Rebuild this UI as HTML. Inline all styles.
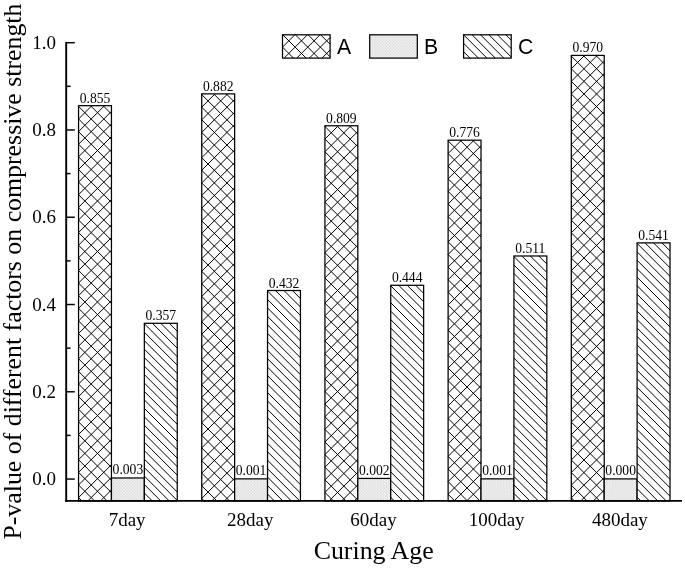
<!DOCTYPE html>
<html lang="en"><head><meta charset="utf-8"><title>P-value of different factors on compressive strength</title>
<style>
html,body{margin:0;padding:0;background:#fff;}
body{width:685px;height:568px;overflow:hidden;}
svg{display:block;will-change:transform;filter:grayscale(1);}
text{fill:#000;}
.serif{font-family:"Liberation Serif","Times New Roman",serif;}
.sans{font-family:"Liberation Sans",Arial,sans-serif;}
</style></head><body>
<svg width="685" height="568" viewBox="0 0 685 568">
<defs>
<pattern id="pb" patternUnits="userSpaceOnUse" width="2.9" height="3.06">
<rect width="3" height="3.1" fill="#f3f3f3"/><rect x="0.3" y="0.3" width="1" height="1" fill="#c2c2c2"/><rect x="1.75" y="1.83" width="1" height="1" fill="#c2c2c2"/>
</pattern>
</defs>
<rect width="685" height="568" fill="#fff"/>
<g transform="translate(78.55,105.67)"><rect width="32.90" height="395.23" fill="#fff"/><path d="M0.00,391.92L3.31,395.23M0.00,379.30L15.94,395.23M0.00,366.68L28.56,395.23M0.00,354.06L32.90,386.96M0.00,341.44L32.90,374.34M0.00,328.82L32.90,361.72M0.00,316.20L32.90,349.10M0.00,303.58L32.90,336.48M0.00,290.96L32.90,323.86M0.00,278.34L32.90,311.24M0.00,265.72L32.90,298.62M0.00,253.10L32.90,286.00M0.00,240.48L32.90,273.38M0.00,227.86L32.90,260.76M0.00,215.24L32.90,248.14M0.00,202.62L32.90,235.52M0.00,190.00L32.90,222.90M0.00,177.38L32.90,210.28M0.00,164.76L32.90,197.66M0.00,152.14L32.90,185.04M0.00,139.52L32.90,172.42M0.00,126.90L32.90,159.80M0.00,114.28L32.90,147.18M0.00,101.66L32.90,134.56M0.00,89.04L32.90,121.94M0.00,76.42L32.90,109.32M0.00,63.80L32.90,96.70M0.00,51.18L32.90,84.08M0.00,38.56L32.90,71.46M0.00,25.94L32.90,58.84M0.00,13.32L32.90,46.22M0.00,0.70L32.90,33.60M11.92,0.00L32.90,20.98M24.54,0.00L32.90,8.36M0.70,0.00L0.00,0.70M13.32,0.00L0.00,13.32M25.94,0.00L0.00,25.94M32.90,5.66L0.00,38.56M32.90,18.28L0.00,51.18M32.90,30.90L0.00,63.80M32.90,43.52L0.00,76.42M32.90,56.14L0.00,89.04M32.90,68.76L0.00,101.66M32.90,81.38L0.00,114.28M32.90,94.00L0.00,126.90M32.90,106.62L0.00,139.52M32.90,119.24L0.00,152.14M32.90,131.86L0.00,164.76M32.90,144.48L0.00,177.38M32.90,157.10L0.00,190.00M32.90,169.72L0.00,202.62M32.90,182.34L0.00,215.24M32.90,194.96L0.00,227.86M32.90,207.58L0.00,240.48M32.90,220.20L0.00,253.10M32.90,232.82L0.00,265.72M32.90,245.44L0.00,278.34M32.90,258.06L0.00,290.96M32.90,270.68L0.00,303.58M32.90,283.30L0.00,316.20M32.90,295.92L0.00,328.82M32.90,308.54L0.00,341.44M32.90,321.16L0.00,354.06M32.90,333.78L0.00,366.68M32.90,346.40L0.00,379.30M32.90,359.02L0.00,391.92M32.90,371.64L9.31,395.23M32.90,384.26L21.93,395.23" stroke="#000" stroke-width="1.0" fill="none"/><rect width="32.90" height="395.23" fill="none" stroke="#000" stroke-width="1.25"/></g>
<text class="serif" x="95.00" y="102.67" font-size="13.6" text-anchor="middle">0.855</text>
<g transform="translate(111.45,477.99)"><rect width="32.90" height="22.91" fill="url(#pb)"/><rect width="32.90" height="22.91" fill="none" stroke="#000" stroke-width="1.25"/></g>
<text class="serif" x="127.90" y="474.19" font-size="13.6" text-anchor="middle">0.003</text>
<g transform="translate(144.35,323.29)"><rect width="32.90" height="177.61" fill="#fff"/><path d="M0.00,169.70L7.91,177.61M0.00,161.24L16.37,177.61M0.00,152.78L24.83,177.61M0.00,144.32L32.90,177.22M0.00,135.86L32.90,168.76M0.00,127.40L32.90,160.30M0.00,118.94L32.90,151.84M0.00,110.48L32.90,143.38M0.00,102.02L32.90,134.92M0.00,93.56L32.90,126.46M0.00,85.10L32.90,118.00M0.00,76.64L32.90,109.54M0.00,68.18L32.90,101.08M0.00,59.72L32.90,92.62M0.00,51.26L32.90,84.16M0.00,42.80L32.90,75.70M0.00,34.34L32.90,67.24M0.00,25.88L32.90,58.78M0.00,17.42L32.90,50.32M0.00,8.96L32.90,41.86M0.00,0.50L32.90,33.40M7.96,0.00L32.90,24.94M16.42,0.00L32.90,16.48M24.88,0.00L32.90,8.02" stroke="#000" stroke-width="1.0" fill="none"/><rect width="32.90" height="177.61" fill="none" stroke="#000" stroke-width="1.25"/></g>
<text class="serif" x="160.80" y="320.29" font-size="13.6" text-anchor="middle">0.357</text>
<text class="serif" x="127.10" y="525.55" font-size="19.0" text-anchor="middle">7day</text>
<g transform="translate(201.74,93.87)"><rect width="32.90" height="407.03" fill="#fff"/><path d="M0.00,404.54L2.49,407.03M0.00,391.92L15.11,407.03M0.00,379.30L27.73,407.03M0.00,366.68L32.90,399.58M0.00,354.06L32.90,386.96M0.00,341.44L32.90,374.34M0.00,328.82L32.90,361.72M0.00,316.20L32.90,349.10M0.00,303.58L32.90,336.48M0.00,290.96L32.90,323.86M0.00,278.34L32.90,311.24M0.00,265.72L32.90,298.62M0.00,253.10L32.90,286.00M0.00,240.48L32.90,273.38M0.00,227.86L32.90,260.76M0.00,215.24L32.90,248.14M0.00,202.62L32.90,235.52M0.00,190.00L32.90,222.90M0.00,177.38L32.90,210.28M0.00,164.76L32.90,197.66M0.00,152.14L32.90,185.04M0.00,139.52L32.90,172.42M0.00,126.90L32.90,159.80M0.00,114.28L32.90,147.18M0.00,101.66L32.90,134.56M0.00,89.04L32.90,121.94M0.00,76.42L32.90,109.32M0.00,63.80L32.90,96.70M0.00,51.18L32.90,84.08M0.00,38.56L32.90,71.46M0.00,25.94L32.90,58.84M0.00,13.32L32.90,46.22M0.00,0.70L32.90,33.60M11.92,0.00L32.90,20.98M24.54,0.00L32.90,8.36M0.70,0.00L0.00,0.70M13.32,0.00L0.00,13.32M25.94,0.00L0.00,25.94M32.90,5.66L0.00,38.56M32.90,18.28L0.00,51.18M32.90,30.90L0.00,63.80M32.90,43.52L0.00,76.42M32.90,56.14L0.00,89.04M32.90,68.76L0.00,101.66M32.90,81.38L0.00,114.28M32.90,94.00L0.00,126.90M32.90,106.62L0.00,139.52M32.90,119.24L0.00,152.14M32.90,131.86L0.00,164.76M32.90,144.48L0.00,177.38M32.90,157.10L0.00,190.00M32.90,169.72L0.00,202.62M32.90,182.34L0.00,215.24M32.90,194.96L0.00,227.86M32.90,207.58L0.00,240.48M32.90,220.20L0.00,253.10M32.90,232.82L0.00,265.72M32.90,245.44L0.00,278.34M32.90,258.06L0.00,290.96M32.90,270.68L0.00,303.58M32.90,283.30L0.00,316.20M32.90,295.92L0.00,328.82M32.90,308.54L0.00,341.44M32.90,321.16L0.00,354.06M32.90,333.78L0.00,366.68M32.90,346.40L0.00,379.30M32.90,359.02L0.00,391.92M32.90,371.64L0.00,404.54M32.90,384.26L10.13,407.03M32.90,396.88L22.75,407.03" stroke="#000" stroke-width="1.0" fill="none"/><rect width="32.90" height="407.03" fill="none" stroke="#000" stroke-width="1.25"/></g>
<text class="serif" x="218.19" y="90.87" font-size="13.6" text-anchor="middle">0.882</text>
<g transform="translate(234.64,478.86)"><rect width="32.90" height="22.04" fill="url(#pb)"/><rect width="32.90" height="22.04" fill="none" stroke="#000" stroke-width="1.25"/></g>
<text class="serif" x="251.09" y="475.06" font-size="13.6" text-anchor="middle">0.001</text>
<g transform="translate(267.54,290.52)"><rect width="32.90" height="210.38" fill="#fff"/><path d="M0.00,203.54L6.84,210.38M0.00,195.08L15.30,210.38M0.00,186.62L23.76,210.38M0.00,178.16L32.22,210.38M0.00,169.70L32.90,202.60M0.00,161.24L32.90,194.14M0.00,152.78L32.90,185.68M0.00,144.32L32.90,177.22M0.00,135.86L32.90,168.76M0.00,127.40L32.90,160.30M0.00,118.94L32.90,151.84M0.00,110.48L32.90,143.38M0.00,102.02L32.90,134.92M0.00,93.56L32.90,126.46M0.00,85.10L32.90,118.00M0.00,76.64L32.90,109.54M0.00,68.18L32.90,101.08M0.00,59.72L32.90,92.62M0.00,51.26L32.90,84.16M0.00,42.80L32.90,75.70M0.00,34.34L32.90,67.24M0.00,25.88L32.90,58.78M0.00,17.42L32.90,50.32M0.00,8.96L32.90,41.86M0.00,0.50L32.90,33.40M7.96,0.00L32.90,24.94M16.42,0.00L32.90,16.48M24.88,0.00L32.90,8.02" stroke="#000" stroke-width="1.0" fill="none"/><rect width="32.90" height="210.38" fill="none" stroke="#000" stroke-width="1.25"/></g>
<text class="serif" x="283.99" y="287.52" font-size="13.6" text-anchor="middle">0.432</text>
<text class="serif" x="250.29" y="525.55" font-size="19.0" text-anchor="middle">28day</text>
<g transform="translate(324.93,125.77)"><rect width="32.90" height="375.13" fill="#fff"/><path d="M0.00,366.68L8.45,375.13M0.00,354.06L21.07,375.13M0.00,341.44L32.90,374.34M0.00,328.82L32.90,361.72M0.00,316.20L32.90,349.10M0.00,303.58L32.90,336.48M0.00,290.96L32.90,323.86M0.00,278.34L32.90,311.24M0.00,265.72L32.90,298.62M0.00,253.10L32.90,286.00M0.00,240.48L32.90,273.38M0.00,227.86L32.90,260.76M0.00,215.24L32.90,248.14M0.00,202.62L32.90,235.52M0.00,190.00L32.90,222.90M0.00,177.38L32.90,210.28M0.00,164.76L32.90,197.66M0.00,152.14L32.90,185.04M0.00,139.52L32.90,172.42M0.00,126.90L32.90,159.80M0.00,114.28L32.90,147.18M0.00,101.66L32.90,134.56M0.00,89.04L32.90,121.94M0.00,76.42L32.90,109.32M0.00,63.80L32.90,96.70M0.00,51.18L32.90,84.08M0.00,38.56L32.90,71.46M0.00,25.94L32.90,58.84M0.00,13.32L32.90,46.22M0.00,0.70L32.90,33.60M11.92,0.00L32.90,20.98M24.54,0.00L32.90,8.36M0.70,0.00L0.00,0.70M13.32,0.00L0.00,13.32M25.94,0.00L0.00,25.94M32.90,5.66L0.00,38.56M32.90,18.28L0.00,51.18M32.90,30.90L0.00,63.80M32.90,43.52L0.00,76.42M32.90,56.14L0.00,89.04M32.90,68.76L0.00,101.66M32.90,81.38L0.00,114.28M32.90,94.00L0.00,126.90M32.90,106.62L0.00,139.52M32.90,119.24L0.00,152.14M32.90,131.86L0.00,164.76M32.90,144.48L0.00,177.38M32.90,157.10L0.00,190.00M32.90,169.72L0.00,202.62M32.90,182.34L0.00,215.24M32.90,194.96L0.00,227.86M32.90,207.58L0.00,240.48M32.90,220.20L0.00,253.10M32.90,232.82L0.00,265.72M32.90,245.44L0.00,278.34M32.90,258.06L0.00,290.96M32.90,270.68L0.00,303.58M32.90,283.30L0.00,316.20M32.90,295.92L0.00,328.82M32.90,308.54L0.00,341.44M32.90,321.16L0.00,354.06M32.90,333.78L0.00,366.68M32.90,346.40L4.17,375.13M32.90,359.02L16.79,375.13M32.90,371.64L29.41,375.13" stroke="#000" stroke-width="1.0" fill="none"/><rect width="32.90" height="375.13" fill="none" stroke="#000" stroke-width="1.25"/></g>
<text class="serif" x="341.38" y="122.77" font-size="13.6" text-anchor="middle">0.809</text>
<g transform="translate(357.83,478.43)"><rect width="32.90" height="22.47" fill="url(#pb)"/><rect width="32.90" height="22.47" fill="none" stroke="#000" stroke-width="1.25"/></g>
<text class="serif" x="374.28" y="474.63" font-size="13.6" text-anchor="middle">0.002</text>
<g transform="translate(390.73,285.27)"><rect width="32.90" height="215.63" fill="#fff"/><path d="M0.00,212.00L3.63,215.63M0.00,203.54L12.09,215.63M0.00,195.08L20.55,215.63M0.00,186.62L29.01,215.63M0.00,178.16L32.90,211.06M0.00,169.70L32.90,202.60M0.00,161.24L32.90,194.14M0.00,152.78L32.90,185.68M0.00,144.32L32.90,177.22M0.00,135.86L32.90,168.76M0.00,127.40L32.90,160.30M0.00,118.94L32.90,151.84M0.00,110.48L32.90,143.38M0.00,102.02L32.90,134.92M0.00,93.56L32.90,126.46M0.00,85.10L32.90,118.00M0.00,76.64L32.90,109.54M0.00,68.18L32.90,101.08M0.00,59.72L32.90,92.62M0.00,51.26L32.90,84.16M0.00,42.80L32.90,75.70M0.00,34.34L32.90,67.24M0.00,25.88L32.90,58.78M0.00,17.42L32.90,50.32M0.00,8.96L32.90,41.86M0.00,0.50L32.90,33.40M7.96,0.00L32.90,24.94M16.42,0.00L32.90,16.48M24.88,0.00L32.90,8.02" stroke="#000" stroke-width="1.0" fill="none"/><rect width="32.90" height="215.63" fill="none" stroke="#000" stroke-width="1.25"/></g>
<text class="serif" x="407.18" y="282.27" font-size="13.6" text-anchor="middle">0.444</text>
<text class="serif" x="373.48" y="525.55" font-size="19.0" text-anchor="middle">60day</text>
<g transform="translate(448.12,140.19)"><rect width="32.90" height="360.71" fill="#fff"/><path d="M0.00,354.06L6.65,360.71M0.00,341.44L19.27,360.71M0.00,328.82L31.89,360.71M0.00,316.20L32.90,349.10M0.00,303.58L32.90,336.48M0.00,290.96L32.90,323.86M0.00,278.34L32.90,311.24M0.00,265.72L32.90,298.62M0.00,253.10L32.90,286.00M0.00,240.48L32.90,273.38M0.00,227.86L32.90,260.76M0.00,215.24L32.90,248.14M0.00,202.62L32.90,235.52M0.00,190.00L32.90,222.90M0.00,177.38L32.90,210.28M0.00,164.76L32.90,197.66M0.00,152.14L32.90,185.04M0.00,139.52L32.90,172.42M0.00,126.90L32.90,159.80M0.00,114.28L32.90,147.18M0.00,101.66L32.90,134.56M0.00,89.04L32.90,121.94M0.00,76.42L32.90,109.32M0.00,63.80L32.90,96.70M0.00,51.18L32.90,84.08M0.00,38.56L32.90,71.46M0.00,25.94L32.90,58.84M0.00,13.32L32.90,46.22M0.00,0.70L32.90,33.60M11.92,0.00L32.90,20.98M24.54,0.00L32.90,8.36M0.70,0.00L0.00,0.70M13.32,0.00L0.00,13.32M25.94,0.00L0.00,25.94M32.90,5.66L0.00,38.56M32.90,18.28L0.00,51.18M32.90,30.90L0.00,63.80M32.90,43.52L0.00,76.42M32.90,56.14L0.00,89.04M32.90,68.76L0.00,101.66M32.90,81.38L0.00,114.28M32.90,94.00L0.00,126.90M32.90,106.62L0.00,139.52M32.90,119.24L0.00,152.14M32.90,131.86L0.00,164.76M32.90,144.48L0.00,177.38M32.90,157.10L0.00,190.00M32.90,169.72L0.00,202.62M32.90,182.34L0.00,215.24M32.90,194.96L0.00,227.86M32.90,207.58L0.00,240.48M32.90,220.20L0.00,253.10M32.90,232.82L0.00,265.72M32.90,245.44L0.00,278.34M32.90,258.06L0.00,290.96M32.90,270.68L0.00,303.58M32.90,283.30L0.00,316.20M32.90,295.92L0.00,328.82M32.90,308.54L0.00,341.44M32.90,321.16L0.00,354.06M32.90,333.78L5.97,360.71M32.90,346.40L18.59,360.71M32.90,359.02L31.21,360.71" stroke="#000" stroke-width="1.0" fill="none"/><rect width="32.90" height="360.71" fill="none" stroke="#000" stroke-width="1.25"/></g>
<text class="serif" x="464.57" y="137.19" font-size="13.6" text-anchor="middle">0.776</text>
<g transform="translate(481.02,478.86)"><rect width="32.90" height="22.04" fill="url(#pb)"/><rect width="32.90" height="22.04" fill="none" stroke="#000" stroke-width="1.25"/></g>
<text class="serif" x="497.47" y="475.06" font-size="13.6" text-anchor="middle">0.001</text>
<g transform="translate(513.92,255.99)"><rect width="32.90" height="244.91" fill="#fff"/><path d="M0.00,237.38L7.53,244.91M0.00,228.92L15.99,244.91M0.00,220.46L24.45,244.91M0.00,212.00L32.90,244.90M0.00,203.54L32.90,236.44M0.00,195.08L32.90,227.98M0.00,186.62L32.90,219.52M0.00,178.16L32.90,211.06M0.00,169.70L32.90,202.60M0.00,161.24L32.90,194.14M0.00,152.78L32.90,185.68M0.00,144.32L32.90,177.22M0.00,135.86L32.90,168.76M0.00,127.40L32.90,160.30M0.00,118.94L32.90,151.84M0.00,110.48L32.90,143.38M0.00,102.02L32.90,134.92M0.00,93.56L32.90,126.46M0.00,85.10L32.90,118.00M0.00,76.64L32.90,109.54M0.00,68.18L32.90,101.08M0.00,59.72L32.90,92.62M0.00,51.26L32.90,84.16M0.00,42.80L32.90,75.70M0.00,34.34L32.90,67.24M0.00,25.88L32.90,58.78M0.00,17.42L32.90,50.32M0.00,8.96L32.90,41.86M0.00,0.50L32.90,33.40M7.96,0.00L32.90,24.94M16.42,0.00L32.90,16.48M24.88,0.00L32.90,8.02" stroke="#000" stroke-width="1.0" fill="none"/><rect width="32.90" height="244.91" fill="none" stroke="#000" stroke-width="1.25"/></g>
<text class="serif" x="530.37" y="252.99" font-size="13.6" text-anchor="middle">0.511</text>
<text class="serif" x="496.67" y="525.55" font-size="19.0" text-anchor="middle">100day</text>
<g transform="translate(571.31,55.41)"><rect width="32.90" height="445.49" fill="#fff"/><path d="M0.00,442.40L3.09,445.49M0.00,429.78L15.71,445.49M0.00,417.16L28.33,445.49M0.00,404.54L32.90,437.44M0.00,391.92L32.90,424.82M0.00,379.30L32.90,412.20M0.00,366.68L32.90,399.58M0.00,354.06L32.90,386.96M0.00,341.44L32.90,374.34M0.00,328.82L32.90,361.72M0.00,316.20L32.90,349.10M0.00,303.58L32.90,336.48M0.00,290.96L32.90,323.86M0.00,278.34L32.90,311.24M0.00,265.72L32.90,298.62M0.00,253.10L32.90,286.00M0.00,240.48L32.90,273.38M0.00,227.86L32.90,260.76M0.00,215.24L32.90,248.14M0.00,202.62L32.90,235.52M0.00,190.00L32.90,222.90M0.00,177.38L32.90,210.28M0.00,164.76L32.90,197.66M0.00,152.14L32.90,185.04M0.00,139.52L32.90,172.42M0.00,126.90L32.90,159.80M0.00,114.28L32.90,147.18M0.00,101.66L32.90,134.56M0.00,89.04L32.90,121.94M0.00,76.42L32.90,109.32M0.00,63.80L32.90,96.70M0.00,51.18L32.90,84.08M0.00,38.56L32.90,71.46M0.00,25.94L32.90,58.84M0.00,13.32L32.90,46.22M0.00,0.70L32.90,33.60M11.92,0.00L32.90,20.98M24.54,0.00L32.90,8.36M0.70,0.00L0.00,0.70M13.32,0.00L0.00,13.32M25.94,0.00L0.00,25.94M32.90,5.66L0.00,38.56M32.90,18.28L0.00,51.18M32.90,30.90L0.00,63.80M32.90,43.52L0.00,76.42M32.90,56.14L0.00,89.04M32.90,68.76L0.00,101.66M32.90,81.38L0.00,114.28M32.90,94.00L0.00,126.90M32.90,106.62L0.00,139.52M32.90,119.24L0.00,152.14M32.90,131.86L0.00,164.76M32.90,144.48L0.00,177.38M32.90,157.10L0.00,190.00M32.90,169.72L0.00,202.62M32.90,182.34L0.00,215.24M32.90,194.96L0.00,227.86M32.90,207.58L0.00,240.48M32.90,220.20L0.00,253.10M32.90,232.82L0.00,265.72M32.90,245.44L0.00,278.34M32.90,258.06L0.00,290.96M32.90,270.68L0.00,303.58M32.90,283.30L0.00,316.20M32.90,295.92L0.00,328.82M32.90,308.54L0.00,341.44M32.90,321.16L0.00,354.06M32.90,333.78L0.00,366.68M32.90,346.40L0.00,379.30M32.90,359.02L0.00,391.92M32.90,371.64L0.00,404.54M32.90,384.26L0.00,417.16M32.90,396.88L0.00,429.78M32.90,409.50L0.00,442.40M32.90,422.12L9.53,445.49M32.90,434.74L22.15,445.49" stroke="#000" stroke-width="1.0" fill="none"/><rect width="32.90" height="445.49" fill="none" stroke="#000" stroke-width="1.25"/></g>
<text class="serif" x="587.76" y="52.41" font-size="13.6" text-anchor="middle">0.970</text>
<g transform="translate(604.21,478.90)"><rect width="32.90" height="22.00" fill="url(#pb)"/><rect width="32.90" height="22.00" fill="none" stroke="#000" stroke-width="1.25"/></g>
<text class="serif" x="620.66" y="475.10" font-size="13.6" text-anchor="middle">0.000</text>
<g transform="translate(637.11,242.88)"><rect width="32.90" height="258.02" fill="#fff"/><path d="M0.00,254.30L3.72,258.02M0.00,245.84L12.18,258.02M0.00,237.38L20.64,258.02M0.00,228.92L29.10,258.02M0.00,220.46L32.90,253.36M0.00,212.00L32.90,244.90M0.00,203.54L32.90,236.44M0.00,195.08L32.90,227.98M0.00,186.62L32.90,219.52M0.00,178.16L32.90,211.06M0.00,169.70L32.90,202.60M0.00,161.24L32.90,194.14M0.00,152.78L32.90,185.68M0.00,144.32L32.90,177.22M0.00,135.86L32.90,168.76M0.00,127.40L32.90,160.30M0.00,118.94L32.90,151.84M0.00,110.48L32.90,143.38M0.00,102.02L32.90,134.92M0.00,93.56L32.90,126.46M0.00,85.10L32.90,118.00M0.00,76.64L32.90,109.54M0.00,68.18L32.90,101.08M0.00,59.72L32.90,92.62M0.00,51.26L32.90,84.16M0.00,42.80L32.90,75.70M0.00,34.34L32.90,67.24M0.00,25.88L32.90,58.78M0.00,17.42L32.90,50.32M0.00,8.96L32.90,41.86M0.00,0.50L32.90,33.40M7.96,0.00L32.90,24.94M16.42,0.00L32.90,16.48M24.88,0.00L32.90,8.02" stroke="#000" stroke-width="1.0" fill="none"/><rect width="32.90" height="258.02" fill="none" stroke="#000" stroke-width="1.25"/></g>
<text class="serif" x="653.56" y="239.88" font-size="13.6" text-anchor="middle">0.541</text>
<text class="serif" x="619.86" y="525.55" font-size="19.0" text-anchor="middle">480day</text>
<path d="M66.2,42.05V501.84999999999997" stroke="#000" stroke-width="1.9" fill="none"/>
<path d="M65.25,500.9H682.0" stroke="#000" stroke-width="1.9" fill="none"/>
<path d="M66.2,479.05H74.8" stroke="#000" stroke-width="1.45" fill="none"/>
<text class="serif" x="56" y="485.25" font-size="19.0" text-anchor="end">0.0</text>
<path d="M66.2,435.42H70.6" stroke="#000" stroke-width="1.45" fill="none"/>
<path d="M66.2,391.78H74.8" stroke="#000" stroke-width="1.45" fill="none"/>
<text class="serif" x="56" y="397.98" font-size="19.0" text-anchor="end">0.2</text>
<path d="M66.2,348.14H70.6" stroke="#000" stroke-width="1.45" fill="none"/>
<path d="M66.2,304.51H74.8" stroke="#000" stroke-width="1.45" fill="none"/>
<text class="serif" x="56" y="310.71" font-size="19.0" text-anchor="end">0.4</text>
<path d="M66.2,260.88H70.6" stroke="#000" stroke-width="1.45" fill="none"/>
<path d="M66.2,217.24H74.8" stroke="#000" stroke-width="1.45" fill="none"/>
<text class="serif" x="56" y="223.44" font-size="19.0" text-anchor="end">0.6</text>
<path d="M66.2,173.61H70.6" stroke="#000" stroke-width="1.45" fill="none"/>
<path d="M66.2,129.97H74.8" stroke="#000" stroke-width="1.45" fill="none"/>
<text class="serif" x="56" y="136.17" font-size="19.0" text-anchor="end">0.8</text>
<path d="M66.2,86.33H70.6" stroke="#000" stroke-width="1.45" fill="none"/>
<path d="M66.2,42.70H74.8" stroke="#000" stroke-width="1.45" fill="none"/>
<text class="serif" x="56" y="48.90" font-size="19.0" text-anchor="end">1.0</text>
<text class="serif" x="373.7" y="559.4" font-size="25.9" text-anchor="middle">Curing Age</text>
<text class="serif" transform="translate(21.2,271.6) rotate(-90)" font-size="25.9" text-anchor="middle" textLength="536" lengthAdjust="spacingAndGlyphs">P-value of different factors on compressive strength</text>
<g transform="translate(282.50,34.80)"><rect width="47.60" height="23.30" fill="#fff"/><path d="M0.00,12.32L10.98,23.30M0.30,0.00L23.60,23.30M12.92,0.00L36.22,23.30M25.54,0.00L47.60,22.06M38.16,0.00L47.60,9.44M12.32,0.00L0.00,12.32M24.94,0.00L1.64,23.30M37.56,0.00L14.26,23.30M47.60,2.58L26.88,23.30M47.60,15.20L39.50,23.30" stroke="#000" stroke-width="1.0" fill="none"/><rect width="47.60" height="23.30" fill="none" stroke="#000" stroke-width="1.25"/></g>
<text class="sans" x="337.0" y="53.9" font-size="21.2">A</text>
<g transform="translate(369.70,34.80)"><rect width="47.60" height="23.30" fill="url(#pb)"/><rect width="47.60" height="23.30" fill="none" stroke="#000" stroke-width="1.25"/></g>
<text class="sans" x="423.9" y="53.9" font-size="21.2">B</text>
<g transform="translate(463.60,34.80)"><rect width="47.60" height="23.30" fill="#fff"/><path d="M0.00,16.92L6.38,23.30M0.00,8.46L14.84,23.30M0.00,0.00L23.30,23.30M8.46,0.00L31.76,23.30M16.92,0.00L40.22,23.30M25.38,0.00L47.60,22.22M33.84,0.00L47.60,13.76M42.30,0.00L47.60,5.30" stroke="#000" stroke-width="1.0" fill="none"/><rect width="47.60" height="23.30" fill="none" stroke="#000" stroke-width="1.25"/></g>
<text class="sans" x="518.0" y="53.9" font-size="21.2">C</text>
</svg></body></html>
